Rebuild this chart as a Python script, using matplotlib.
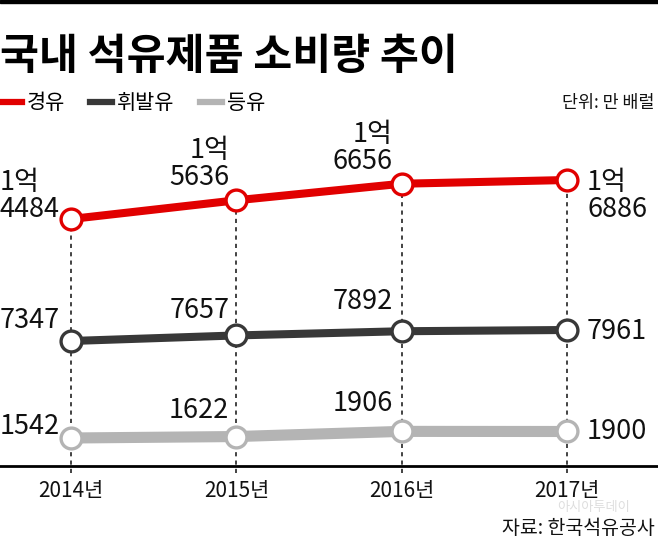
import matplotlib
matplotlib.use("Agg")
import matplotlib.pyplot as plt
from matplotlib.lines import Line2D
from matplotlib.patches import Rectangle

# -------------------------
# Data (만 배럴)
# -------------------------
years = [2014, 2015, 2016, 2017]
year_labels = ["2014년", "2015년", "2016년", "2017년"]
diesel = [14484, 15636, 16656, 16886]     # 경유
gasoline = [7347, 7657, 7892, 7961]       # 휘발유
kerosene = [1542, 1622, 1906, 1900]       # 등유

KR = ["Noto Sans CJK KR", "DejaVu Sans"]
plt.rcParams["font.family"] = KR

W, H = 658, 540
fig = plt.figure(figsize=(W / 100, H / 100), dpi=100)

# plot area in pixels (top-origin)
top_px, base_px = 130, 466
rect = [0, (H - base_px) / H, 1, (base_px - top_px) / H]

x_per_px = 3 / (567 - 71)
xlim = (2014 - 71 * x_per_px, 2014 + (W - 71) * x_per_px)


def make_axes(v0, y0_px, upp):
    # each series gets its own vertical offset so the three lines sit apart
    ax = fig.add_axes(rect, facecolor="none")
    lo = v0 - (base_px - y0_px) * upp
    ax.set_ylim(lo, lo + (base_px - top_px) * upp)
    ax.set_xlim(*xlim)
    ax.axis("off")
    return ax, lo, upp


series = [
    # values, color, line width, anchor px, units/px, label offsets (px)
    (diesel, "#e10000", 5.8, 219, 61.6,
     [(-71, 23, "left"), (-7, 36, "right"), (-9, 36, "right"), (20, -16, "left")]),
    (gasoline, "#383838", 5.8, 341, 55.8,
     [(-71, 21, "left"), (-7, 25, "right"), (-9, 30, "right"), (20, -2, "left")]),
    (kerosene, "#b4b4b4", 8.0, 438, 55.0,
     [(-71, 11, "left"), (-7, 26, "right"), (-9, 28, "right"), (20, 0, "left")]),
]

for i, (vals, color, lw, y0, upp, offs) in enumerate(series):
    ax, lo, upp = make_axes(vals[0], y0, upp)
    if i == 0:
        # dashed guides from the top series down past the baseline
        ax.vlines(years, lo - 7 * upp, vals, colors="#222222", lw=1.2,
                  linestyles=(0, (2.5, 2.5)), clip_on=False, zorder=1)
    ax.plot(years, vals, color=color, lw=lw, solid_capstyle="butt", zorder=3,
            marker="o", ms=15, mfc="white", mec=color, mew=2.4, clip_on=False)
    for x, v, (dx, dy, ha) in zip(years, vals, offs):
        txt = f"{v // 10000}억\n{v % 10000}" if v >= 10000 else str(v)
        ax.annotate(txt, (x, v), xytext=(dx, dy), textcoords="offset pixels",
                    ha=ha, va="center", fontsize=19.5,
                    linespacing=1.0, color="#111111", zorder=5)

# baseline + year labels
base_ax = fig.add_axes(rect, facecolor="none")
base_ax.set_xlim(*xlim)
base_ax.set_ylim(0, 1)
for s in ["top", "left", "right"]:
    base_ax.spines[s].set_visible(False)
base_ax.spines["bottom"].set_linewidth(2)
base_ax.set_yticks([])
base_ax.set_xticks(years)
base_ax.set_xticklabels(year_labels, fontsize=15, color="#111111")
base_ax.tick_params(axis="x", length=0, pad=10)

# top bar and title
fig.patches.append(Rectangle((0, 1 - 3 / H), 1, 3 / H, transform=fig.transFigure,
                             color="black"))
fig.text(0, 1 - 57 / H, "국내 석유제품 소비량 추이", fontsize=30.5,
         weight="bold", va="center", ha="left")

# legend
handles = [Line2D([], [], color=c, lw=4.5) for c in ["#e10000", "#383838", "#b4b4b4"]]
fig.legend(handles, ["경유", "휘발유", "등유"], loc="center left",
           bbox_to_anchor=(0, 1 - 103 / H), ncol=3, frameon=False, fontsize=15,
           handlelength=1.05, handletextpad=0.25, columnspacing=1.2,
           borderpad=0, borderaxespad=0)
fig.text(655 / W, 1 - 103 / H, "단위: 만 배럴", fontsize=12.5, ha="right",
         va="center", color="#111111")

# watermark + source
fig.text(630 / W, 1 - 508 / H, "아시아투데이", fontsize=9.5, ha="right",
         va="center", color="#dedede")
fig.text(655 / W, 1 - 529 / H, "자료: 한국석유공사", fontsize=14, ha="right",
         va="center", color="#111111")

fig.savefig("out.png", dpi=100)
